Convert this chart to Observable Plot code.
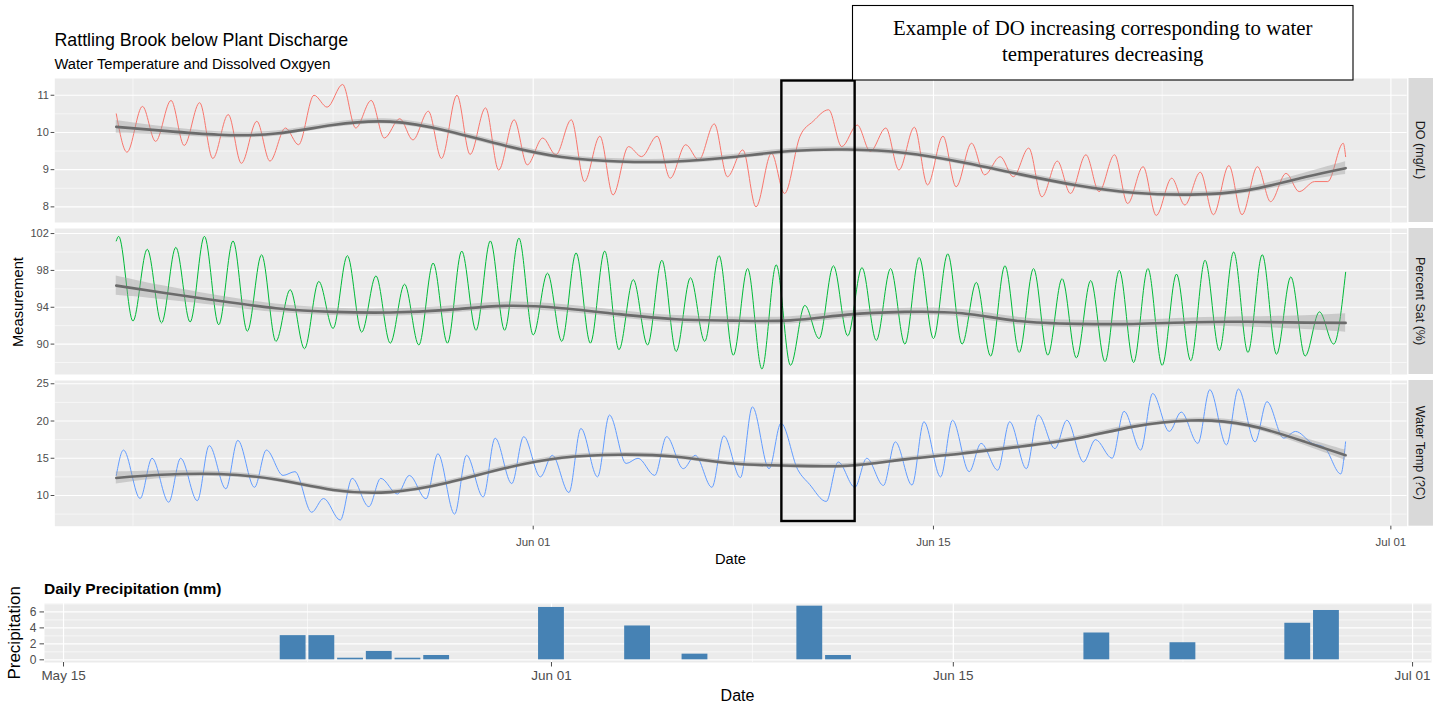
<!DOCTYPE html>
<html>
<head>
<meta charset="utf-8">
<script src="https://cdn.jsdelivr.net/npm/d3@7"></script>
<script src="https://cdn.jsdelivr.net/npm/@observablehq/plot@0.6"></script>
<style>
html, body { margin: 0; padding: 0; background: #fff; overflow: hidden; }
#root { position: relative; width: 1444px; height: 704px; overflow: hidden; background: #fff; }
</style>
</head>
<body>
<div id="root"></div>
<script>
// ---------------- DATA ----------------
const firstDay = "2020-05-17";              // first calendar day of the daily arrays
const seriesStart = "2020-05-17T10:00Z";     // first logged reading
const seriesEnd = "2020-06-29T10:00Z";       // last logged reading

// Dissolved oxygen (mg/L): morning high (~08:00) and evening low (~19:00), May 17 .. Jun 29
const doHighHour = 8, doLowHour = 19;
const doStart = 10.5, doEnd = 9.35;
const doHigh = [null,10.7,10.86,10.8,10.48,10.3,10.12,11.0,11.29,10.86,10.37,10.57,11.0,10.66,10.34,
  9.85,10.34,9.9,9.62,9.9,9.67,10.23,9.53,9.44,9.9,10.61,10.2,10.12,10.14,9.9,9.71,9.35,9.58,9.23,9.4,9.4,9.08,8.77,8.93,9.11,9.08,8.9,8.68,9.71];
const doLow = [9.47,9.76,9.65,9.3,9.17,9.23,9.67,10.68,10.12,9.85,9.8,9.3,9.41,8.99,9.13,
  9.4,8.68,8.32,9.35,8.77,9.26,8.81,8.0,8.36,10.3,9.62,9.49,8.99,8.59,8.54,8.86,8.81,8.27,8.36,8.41,8.09,7.77,8.05,7.79,7.79,8.14,8.41,8.68,null];

// Percent saturation (%): midday high (~12:00) and midnight low (~00:00)
const satHighHour = 12, satLowHour = 0;
const satStart = 101.2, satEnd = 97.8;
const satHigh = [101.7,100.3,100.5,101.7,101.2,99.7,95.9,96.8,99.6,97.4,96.5,98.8,100.1,101.2,101.5,
  97.7,99.9,100.1,97.0,99.1,97.2,99.6,98.2,98.6,94.2,98.5,98.3,98.2,99.4,99.8,96.7,98.5,98.2,97.1,96.9,98.0,98.2,97.6,99.1,100.0,99.7,97.3,93.5,null];
const satLow = [null,92.5,92.3,92.4,92.1,91.4,90.3,89.5,91.7,91.3,90.1,89.9,90.1,91.5,91.5,
  91.0,90.3,90.1,89.4,89.9,89.2,90.3,88.8,87.3,87.7,90.6,90.9,90.4,90.0,90.6,90.0,88.7,89.1,88.8,88.5,88.1,88.0,87.7,88.2,89.3,89.1,88.9,88.7,90.0];

// Water temperature (C): afternoon high (~16:00) and morning low (~06:00)
const tempHighHour = 16, tempLowHour = 6;
const tempStart = 12.7, tempEnd = 17.2;
const tempHigh = [16.1,15.0,15.0,16.7,17.4,16.1,13.2,9.6,12.3,12.3,12.7,15.6,15.4,17.7,17.9,
  15.4,19.0,20.8,15.0,17.9,15.4,18.0,21.9,19.7,11.5,14.5,15.0,17.2,19.9,20.1,17.0,19.9,20.8,20.1,17.5,21.3,23.7,21.2,24.2,24.3,22.6,18.6,16.5,null];
const tempLow = [null,9.6,9.1,9.3,10.9,11.1,12.7,7.75,6.7,8.5,10.2,9.55,7.5,9.8,11.6,
  12.5,10.4,12.5,14.3,12.7,13.6,11.1,12.4,13.6,13.5,9.2,11.1,11.35,11.4,12.5,13.2,13.4,13.6,16.3,14.5,15.0,16.1,18.6,17.0,16.8,17.2,17.7,17.0,12.9];

// Loess smooth (value and half-width of the grey band), read every two days
const smoothTimes = ["2020-05-17T10:00Z","2020-05-19","2020-05-21","2020-05-23","2020-05-25","2020-05-27","2020-05-29","2020-05-31",
  "2020-06-02","2020-06-04","2020-06-06","2020-06-08","2020-06-10","2020-06-12","2020-06-14","2020-06-16","2020-06-18","2020-06-20",
  "2020-06-22","2020-06-24","2020-06-26","2020-06-28","2020-06-29T10:00Z"];
const doSmooth = [10.15,10.05,9.94,9.97,10.2,10.29,10.04,9.65,9.34,9.22,9.22,9.34,9.5,9.54,9.45,9.2,8.88,8.58,8.38,8.33,8.45,8.8,9.04];
const doBand = [0.17,0.11,0.08,0.07,0.07,0.07,0.07,0.07,0.07,0.07,0.07,0.07,0.07,0.07,0.07,0.07,0.07,0.07,0.07,0.07,0.08,0.11,0.17];
const satSmooth = [96.35,95.6,94.7,93.9,93.5,93.43,93.72,94.15,93.9,93.25,92.7,92.55,92.58,93.2,93.5,93.35,92.5,92.2,92.19,92.38,92.42,92.33,92.3];
const satBand = [1.05,0.75,0.55,0.45,0.4,0.4,0.4,0.4,0.4,0.4,0.4,0.4,0.4,0.4,0.4,0.4,0.4,0.4,0.4,0.45,0.55,0.75,1.0];
const tempSmooth = [12.35,12.78,12.88,12.15,10.75,10.45,11.7,13.65,15.07,15.48,15.2,14.3,14.0,14.0,14.85,15.65,16.55,17.65,19.25,20.07,19.45,17.2,15.4];
const tempBand = [0.8,0.5,0.35,0.3,0.3,0.3,0.3,0.3,0.3,0.3,0.3,0.3,0.3,0.3,0.3,0.3,0.3,0.3,0.3,0.3,0.35,0.5,0.7];

// Facet labels and axis ticks
const stripLabels = ["DO (mg/L)", "Percent Sat (%)", "Water Temp (?C)"];
const doTicks = [8, 9, 10, 11], doMinor = [8.5, 9.5, 10.5];
const satTicks = [90, 94, 98, 102], satMinor = [88, 92, 96, 100];
const tempTicks = [10, 15, 20, 25], tempMinor = [7.5, 12.5, 17.5, 22.5];
const dateTicks = ["2020-06-01", "2020-06-15", "2020-07-01"];
const dateMinor = ["2020-05-18", "2020-05-25", "2020-06-08", "2020-06-23"];

// Daily precipitation (mm)
const precipDates = ["2020-05-23","2020-05-24","2020-05-25","2020-05-26","2020-05-27","2020-05-28","2020-06-01","2020-06-04",
  "2020-06-06","2020-06-10","2020-06-11","2020-06-20","2020-06-23","2020-06-27","2020-06-28"];
const precipMm = [3.03,3.03,0.2,1.05,0.2,0.54,6.56,4.24,0.71,6.72,0.54,3.36,2.14,4.58,6.18];
const precipTicks = [0, 2, 4, 6], precipMinor = [1, 3, 5, 7];
const precipDateTicks = ["2020-05-15", "2020-06-01", "2020-06-15", "2020-07-01"];
const precipDateMinor = ["2020-05-23T12:00Z", "2020-06-08", "2020-06-23"];
const precipDomain = ["2020-05-14T08:06Z", "2020-07-01T15:50Z"];

// Highlighted period
const highlightStart = "2020-06-09T16:45Z", highlightEnd = "2020-06-12T06:15Z";

// ---------------- BUILD ----------------
const W = 1444;
const font = '"Liberation Sans", Arial, Helvetica, sans-serif';
const serif = '"Liberation Serif", "Times New Roman", serif';
const DAY = 864e5, HOUR = 36e5;
const day0 = Date.parse(firstDay + "T00:00:00Z");
const t0 = new Date(seriesStart), t1 = new Date(seriesEnd);
const pad = (t1 - t0) * 0.05;
const xDomain = [new Date(+t0 - pad), new Date(+t1 + pad)];
const toDate = s => new Date(s.length > 10 ? s : s + "T00:00:00Z");
const fmt = d3.utcFormat("%b %d");

function buildSeries(startVal, endVal, lows, lowHour, highs, highHour) {
  const pts = [{t: t0, v: startVal}, {t: t1, v: endVal}];
  lows.forEach((v, i) => { if (v != null) pts.push({t: new Date(day0 + i * DAY + lowHour * HOUR), v}); });
  highs.forEach((v, i) => { if (v != null) pts.push({t: new Date(day0 + i * DAY + highHour * HOUR), v}); });
  return pts.filter(p => p.t >= t0 && p.t <= t1).sort((a, b) => a.t - b.t);
}
function buildSmooth(values, band) {
  return smoothTimes.map((s, i) => ({t: toDate(s), v: values[i], lo: values[i] - band[i], hi: values[i] + band[i]}));
}

const root = document.getElementById("root");

function facet(cfg) {
  const axisH = cfg.xAxis ? 50 : 0;
  const marks = [
    Plot.frame({fill: "#EBEBEB", stroke: "none"}),
    Plot.ruleY(cfg.minor, {stroke: "#fff", strokeWidth: 0.55}),
    Plot.ruleX(dateMinor.map(toDate), {stroke: "#fff", strokeWidth: 0.55}),
    Plot.ruleY(cfg.ticks, {stroke: "#fff", strokeWidth: 1.1}),
    Plot.ruleX(dateTicks.map(toDate), {stroke: "#fff", strokeWidth: 1.1}),
    Plot.line(cfg.data, {x: "t", y: "v", stroke: cfg.color, strokeWidth: 1, curve: "monotone-x"}),
    Plot.areaY(cfg.smooth, {x: "t", y1: "lo", y2: "hi", fill: "#999999", fillOpacity: 0.4, curve: "natural"}),
    Plot.line(cfg.smooth, {x: "t", y: "v", stroke: "#6B6B6B", strokeWidth: 2.6, curve: "natural"}),
    Plot.axisY(cfg.ticks, {tickSize: 3.7, tickPadding: 2.3, label: null, fontSize: 11})
  ];
  if (cfg.xAxis) marks.push(Plot.axisX(dateTicks.map(toDate), {tickSize: 3.7, tickPadding: 8, tickFormat: fmt, label: null, fontSize: 11.5}));
  const chart = Plot.plot({
    width: W, height: cfg.h + axisH,
    marginTop: 0, marginBottom: axisH, marginLeft: 54.3, marginRight: 37.4,
    style: {fontFamily: font, fontSize: "11px", color: "#4D4D4D", background: "transparent", overflow: "visible"},
    x: cfg.xAxis ? {type: "utc", domain: xDomain} : {type: "utc", domain: xDomain, axis: null},
    y: {domain: cfg.domain},
    marks
  });
  const svg = d3.select(chart);
  svg.append("rect").attr("x", 1408.5).attr("y", 0).attr("width", 24.5).attr("height", cfg.h).attr("fill", "#D9D9D9");
  svg.append("text").attr("transform", `translate(${1408.5 + 12.25},${cfg.h / 2}) rotate(90)`)
    .attr("text-anchor", "middle").attr("dy", "0.35em").attr("fill", "#1A1A1A")
    .attr("font-size", 12.5).attr("font-family", font).text(cfg.strip);
  chart.style.position = "absolute";
  chart.style.left = "0px";
  chart.style.top = cfg.top + "px";
  root.appendChild(chart);
  return chart;
}

facet({data: buildSeries(doStart, doEnd, doLow, doLowHour, doHigh, doHighHour), smooth: buildSmooth(doSmooth, doBand),
  color: "#F8766D", domain: [7.58, 11.45], ticks: doTicks, minor: doMinor, strip: stripLabels[0], top: 78.3, h: 144});
facet({data: buildSeries(satStart, satEnd, satLow, satLowHour, satHigh, satHighHour), smooth: buildSmooth(satSmooth, satBand),
  color: "#00BA38", domain: [86.7, 102.55], ticks: satTicks, minor: satMinor, strip: stripLabels[1], top: 228.3, h: 146});
const tempChart = facet({data: buildSeries(tempStart, tempEnd, tempLow, tempLowHour, tempHigh, tempHighHour), smooth: buildSmooth(tempSmooth, tempBand),
  color: "#619CFF", domain: [5.88, 25.44], ticks: tempTicks, minor: tempMinor, strip: stripLabels[2], top: 380, h: 145.7, xAxis: true});

// Precipitation chart
const precip = precipDates.map((d, i) => ({t: toDate(d), v: precipMm[i]}));
const pChart = Plot.plot({
  width: W, height: 59 + 30,
  marginTop: 0, marginBottom: 30, marginLeft: 44, marginRight: 13,
  style: {fontFamily: font, fontSize: "12px", color: "#4D4D4D", background: "transparent", overflow: "visible"},
  x: {type: "utc", domain: precipDomain.map(toDate)},
  y: {domain: [-0.336, 7.056]},
  marks: [
    Plot.frame({fill: "#EBEBEB", stroke: "none"}),
    Plot.ruleY(precipMinor, {stroke: "#fff", strokeWidth: 0.6}),
    Plot.ruleX(precipDateMinor.map(toDate), {stroke: "#fff", strokeWidth: 0.6}),
    Plot.ruleY(precipTicks, {stroke: "#fff", strokeWidth: 1.2}),
    Plot.ruleX(precipDateTicks.map(toDate), {stroke: "#fff", strokeWidth: 1.2}),
    Plot.rect(precip, {x1: d => new Date(+d.t - 0.45 * DAY), x2: d => new Date(+d.t + 0.45 * DAY), y1: () => 0, y2: "v", fill: "#4682B4"}),
    Plot.axisY(precipTicks, {tickSize: 4.5, tickPadding: 3.5, label: null, fontSize: 12}),
    Plot.axisX(precipDateTicks.map(toDate), {tickSize: 4.5, tickPadding: 3.5, tickFormat: fmt, label: null, fontSize: 13.5})
  ]
});
pChart.style.position = "absolute";
pChart.style.left = "0px";
pChart.style.top = "603.3px";
root.appendChild(pChart);

// Overlay: titles, axis titles, annotations
const ov = d3.create("svg").attr("width", W).attr("height", 704)
  .style("position", "absolute").style("left", "0px").style("top", "0px").style("font-family", font);
function txt(x, y, s, o = {}) {
  const t = ov.append("text").attr("x", x).attr("y", y).text(s)
    .attr("font-size", o.size || 12).attr("fill", o.fill || "#000");
  if (o.anchor) t.attr("text-anchor", o.anchor);
  if (o.weight) t.attr("font-weight", o.weight);
  if (o.family) t.attr("font-family", o.family);
  if (o.rotate != null) t.attr("transform", `rotate(${o.rotate},${x},${y})`);
  return t;
}
txt(54.5, 45.5, "Rattling Brook below Plant Discharge", {size: 17.8});
txt(54.5, 69.3, "Water Temperature and Dissolved Oxgyen", {size: 14.7});
txt(23, 302, "Measurement", {size: 14.7, anchor: "middle", rotate: -90});
txt(730.5, 564.3, "Date", {size: 14.7, anchor: "middle"});
txt(44, 594, "Daily Precipitation (mm)", {size: 15.5, weight: "bold"});
txt(20, 632.8, "Precipitation", {size: 17, anchor: "middle", rotate: -90});
txt(737.5, 701, "Date", {size: 16, anchor: "middle"});

const xs = tempChart.scale("x");
const hx1 = xs.apply(toDate(highlightStart)), hx2 = xs.apply(toDate(highlightEnd));
ov.append("rect").attr("x", hx1).attr("y", 80.5).attr("width", hx2 - hx1).attr("height", 440.5)
  .attr("fill", "none").attr("stroke", "#000").attr("stroke-width", 2.4);
ov.append("rect").attr("x", 852.5).attr("y", 5.5).attr("width", 500.5).attr("height", 74.5)
  .attr("fill", "#fff").attr("stroke", "#000").attr("stroke-width", 1.1);
txt(1102.75, 35, "Example of DO increasing corresponding to water", {size: 20.8, anchor: "middle", family: serif});
txt(1102.75, 60.5, "temperatures decreasing", {size: 20.8, anchor: "middle", family: serif});
root.appendChild(ov.node());
</script>
</body>
</html>
